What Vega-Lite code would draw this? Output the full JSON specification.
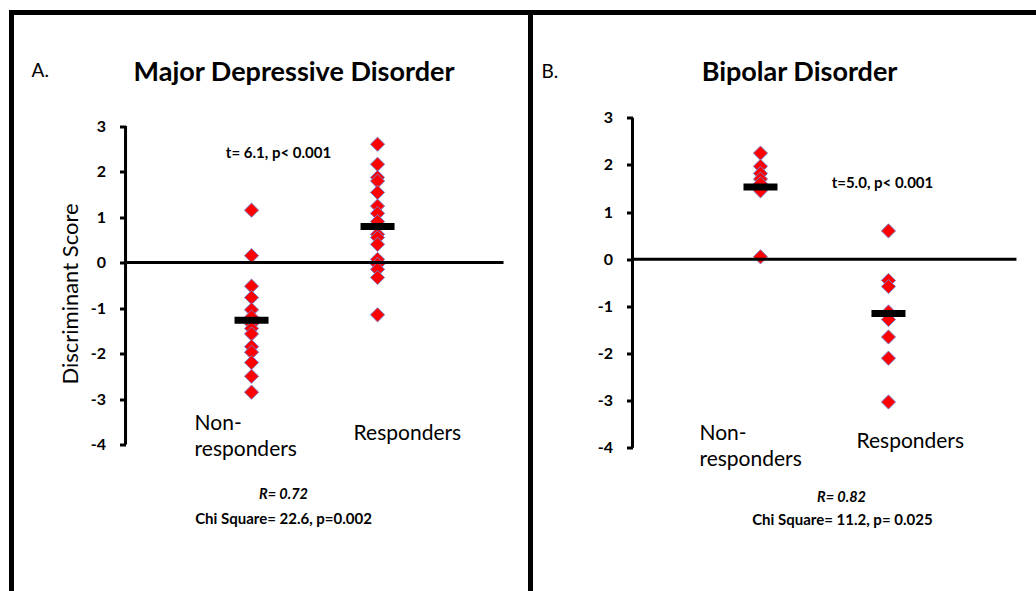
{
  "$schema": "https://vega.github.io/schema/vega-lite/v6.json",
  "padding": {"left": 7.5, "top": 8.5, "right": 0, "bottom": 0},
  "spacing": 0,
  "bounds": "flush",
  "background": "white",
  "config": {
    "font": "Lato",
    "text": {"color": "black", "font": "Lato"},
    "axisY": {"domain": false, "grid": false, "ticks": true, "tickSize": 6, "tickWidth": 3, "tickColor": "black", "labelFont": "Lato", "labelFontWeight": "bold", "labelFontSize": 16, "labelColor": "black", "labelPadding": 14, "titleFont": "Lato", "titleFontSize": 22, "titleFontWeight": "normal", "titleColor": "black", "titlePadding": 8}
  },
  "datasets": {
    "points": [
      {"disorder": "MDD", "group": "Non-responders", "code": 1, "score": 1.15},
      {"disorder": "MDD", "group": "Non-responders", "code": 1, "score": 0.15},
      {"disorder": "MDD", "group": "Non-responders", "code": 1, "score": -0.52},
      {"disorder": "MDD", "group": "Non-responders", "code": 1, "score": -0.77},
      {"disorder": "MDD", "group": "Non-responders", "code": 1, "score": -1.04},
      {"disorder": "MDD", "group": "Non-responders", "code": 1, "score": -1.2},
      {"disorder": "MDD", "group": "Non-responders", "code": 1, "score": -1.35},
      {"disorder": "MDD", "group": "Non-responders", "code": 1, "score": -1.45},
      {"disorder": "MDD", "group": "Non-responders", "code": 1, "score": -1.57},
      {"disorder": "MDD", "group": "Non-responders", "code": 1, "score": -1.85},
      {"disorder": "MDD", "group": "Non-responders", "code": 1, "score": -1.97},
      {"disorder": "MDD", "group": "Non-responders", "code": 1, "score": -2.2},
      {"disorder": "MDD", "group": "Non-responders", "code": 1, "score": -2.5},
      {"disorder": "MDD", "group": "Non-responders", "code": 1, "score": -2.85},
      {"disorder": "MDD", "group": "Responders", "code": 2, "score": 2.6},
      {"disorder": "MDD", "group": "Responders", "code": 2, "score": 2.16},
      {"disorder": "MDD", "group": "Responders", "code": 2, "score": 1.87},
      {"disorder": "MDD", "group": "Responders", "code": 2, "score": 1.79},
      {"disorder": "MDD", "group": "Responders", "code": 2, "score": 1.54},
      {"disorder": "MDD", "group": "Responders", "code": 2, "score": 1.24},
      {"disorder": "MDD", "group": "Responders", "code": 2, "score": 1.08},
      {"disorder": "MDD", "group": "Responders", "code": 2, "score": 0.9},
      {"disorder": "MDD", "group": "Responders", "code": 2, "score": 0.62},
      {"disorder": "MDD", "group": "Responders", "code": 2, "score": 0.55},
      {"disorder": "MDD", "group": "Responders", "code": 2, "score": 0.4},
      {"disorder": "MDD", "group": "Responders", "code": 2, "score": 0.07},
      {"disorder": "MDD", "group": "Responders", "code": 2, "score": -0.04},
      {"disorder": "MDD", "group": "Responders", "code": 2, "score": -0.15},
      {"disorder": "MDD", "group": "Responders", "code": 2, "score": -0.33},
      {"disorder": "MDD", "group": "Responders", "code": 2, "score": -1.15},
      {"disorder": "BD", "group": "Non-responders", "code": 1, "score": 2.25},
      {"disorder": "BD", "group": "Non-responders", "code": 1, "score": 1.97},
      {"disorder": "BD", "group": "Non-responders", "code": 1, "score": 1.82},
      {"disorder": "BD", "group": "Non-responders", "code": 1, "score": 1.7},
      {"disorder": "BD", "group": "Non-responders", "code": 1, "score": 1.6},
      {"disorder": "BD", "group": "Non-responders", "code": 1, "score": 1.45},
      {"disorder": "BD", "group": "Non-responders", "code": 1, "score": 0.05},
      {"disorder": "BD", "group": "Responders", "code": 2, "score": 0.6},
      {"disorder": "BD", "group": "Responders", "code": 2, "score": -0.45},
      {"disorder": "BD", "group": "Responders", "code": 2, "score": -0.58},
      {"disorder": "BD", "group": "Responders", "code": 2, "score": -1.12},
      {"disorder": "BD", "group": "Responders", "code": 2, "score": -1.28},
      {"disorder": "BD", "group": "Responders", "code": 2, "score": -1.65},
      {"disorder": "BD", "group": "Responders", "code": 2, "score": -2.1},
      {"disorder": "BD", "group": "Responders", "code": 2, "score": -3.03}
    ],
    "means": [
      {"disorder": "MDD", "group": "Non-responders", "code": 1, "mean": -1.27},
      {"disorder": "MDD", "group": "Responders", "code": 2, "mean": 0.79},
      {"disorder": "BD", "group": "Non-responders", "code": 1, "mean": 1.53},
      {"disorder": "BD", "group": "Responders", "code": 2, "mean": -1.15}
    ]
  },
  "hconcat": [
    {
      "width": 519,
      "height": 576,
      "view": {"stroke": "black", "strokeWidth": 5, "strokeDash": [1095, 519, 600], "strokeCap": "square"},
      "layer": [
        {
          "data": {"name": "points"},
          "transform": [{"filter": "datum.disorder === 'MDD'"}],
          "mark": {"type": "point", "shape": "diamond", "filled": true, "fill": "#ff0000", "stroke": "#7b7bc6", "strokeWidth": 1, "size": 200, "opacity": 1, "zindex": 2},
          "encoding": {
            "x": {"field": "code", "type": "quantitative", "scale": {"domain": [-0.905, 3.214], "nice": false, "zero": false}, "axis": null},
            "y": {"field": "score", "type": "quantitative", "scale": {"domain": [-7.165, 5.495], "nice": false, "zero": false},
              "axis": {"values": [-4, -3, -2, -1, 0, 1, 2, 3], "offset": -114, "labelExpr": "'' + datum.value", "labelFontWeight": "bold", "labelFontSize": 16, "title": "Discriminant Score", "titleY": 281}}
          }
        },
        {
          "data": {"values": [{}]},
          "mark": {"type": "rule", "color": "black", "strokeWidth": 3},
          "encoding": {"x": {"datum": 0, "axis": null}, "x2": {"datum": 3}, "y": {"datum": 0}}
        },
        {
          "data": {"values": [{}]},
          "mark": {"type": "rule", "color": "black", "strokeWidth": 3},
          "encoding": {"x": {"datum": 0, "axis": null}, "y": {"datum": -4}, "y2": {"datum": 3}}
        },
        {
          "data": {"name": "means"},
          "transform": [{"filter": "datum.disorder === 'MDD'"}],
          "mark": {"type": "tick", "orient": "horizontal", "size": 34, "thickness": 7, "color": "black", "opacity": 1, "zindex": 3},
          "encoding": {"x": {"field": "code", "type": "quantitative", "axis": null}, "y": {"field": "mean", "type": "quantitative"}}
        },
        {
          "data": {"values": [{}]},
          "mark": {"type": "text", "text": "A.", "align": "left", "baseline": "middle", "fontSize": 19},
          "encoding": {"x": {"datum": -0.746, "axis": null}, "y": {"datum": 4.22}}
        },
        {
          "data": {"values": [{}]},
          "mark": {"type": "text", "text": "Major Depressive Disorder", "align": "center", "baseline": "middle", "fontSize": 27, "fontWeight": "bold"},
          "encoding": {"x": {"datum": 1.337, "axis": null}, "y": {"datum": 4.176}}
        },
        {
          "data": {"values": [{}]},
          "mark": {"type": "text", "text": "t= 6.1, p< 0.001", "align": "center", "baseline": "middle", "fontSize": 15, "fontWeight": "bold"},
          "encoding": {"x": {"datum": 1.214, "axis": null}, "y": {"datum": 2.396}}
        },
        {
          "data": {"values": [{}]},
          "mark": {"type": "text", "text": "Non-", "align": "left", "baseline": "middle", "fontSize": 21},
          "encoding": {"x": {"datum": 0.548, "axis": null}, "y": {"datum": -3.54}}
        },
        {
          "data": {"values": [{}]},
          "mark": {"type": "text", "text": "responders", "align": "left", "baseline": "middle", "fontSize": 21},
          "encoding": {"x": {"datum": 0.548, "axis": null}, "y": {"datum": -4.13}}
        },
        {
          "data": {"values": [{}]},
          "mark": {"type": "text", "text": "Responders", "align": "left", "baseline": "middle", "fontSize": 21},
          "encoding": {"x": {"datum": 1.81, "axis": null}, "y": {"datum": -3.76}}
        },
        {
          "data": {"values": [{}]},
          "mark": {"type": "text", "text": "R= 0.72", "align": "center", "baseline": "middle", "fontSize": 14.5, "fontWeight": "bold", "fontStyle": "italic"},
          "encoding": {"x": {"datum": 1.254, "axis": null}, "y": {"datum": -5.12}}
        },
        {
          "data": {"values": [{}]},
          "mark": {"type": "text", "text": "Chi Square= 22.6, p=0.002", "align": "center", "baseline": "middle", "fontSize": 15, "fontWeight": "bold"},
          "encoding": {"x": {"datum": 1.254, "axis": null}, "y": {"datum": -5.63}}
        }
      ]
    },
    {
      "width": 504,
      "height": 576,
      "view": {"stroke": "black", "strokeWidth": 5, "strokeDash": [504, 2400], "strokeCap": "square"},
      "layer": [
        {
          "data": {"name": "points"},
          "transform": [{"filter": "datum.disorder === 'BD'"}],
          "mark": {"type": "point", "shape": "diamond", "filled": true, "fill": "#ff0000", "stroke": "#7b7bc6", "strokeWidth": 1, "size": 200, "opacity": 1, "zindex": 2},
          "encoding": {
            "x": {"field": "code", "type": "quantitative", "scale": {"domain": [-0.797, 3.141], "nice": false, "zero": false}, "axis": null},
            "y": {"field": "score", "type": "quantitative", "scale": {"domain": [-6.986, 5.233], "nice": false, "zero": false},
              "axis": {"values": [-4, -3, -2, -1, 0, 1, 2, 3], "offset": -102, "labelExpr": "'' + datum.value", "labelFontWeight": "bold", "labelFontSize": 16, "title": null}}
          }
        },
        {
          "data": {"values": [{}]},
          "mark": {"type": "rule", "color": "black", "strokeWidth": 3},
          "encoding": {"x": {"datum": 0, "axis": null}, "x2": {"datum": 3}, "y": {"datum": 0}}
        },
        {
          "data": {"values": [{}]},
          "mark": {"type": "rule", "color": "black", "strokeWidth": 3},
          "encoding": {"x": {"datum": 0, "axis": null}, "y": {"datum": -4}, "y2": {"datum": 3}}
        },
        {
          "data": {"name": "means"},
          "transform": [{"filter": "datum.disorder === 'BD'"}],
          "mark": {"type": "tick", "orient": "horizontal", "size": 34, "thickness": 7, "color": "black", "opacity": 1, "zindex": 3},
          "encoding": {"x": {"field": "code", "type": "quantitative", "axis": null}, "y": {"field": "mean", "type": "quantitative"}}
        },
        {
          "data": {"values": [{}]},
          "mark": {"type": "text", "text": "B.", "align": "left", "baseline": "middle", "fontSize": 19},
          "encoding": {"x": {"datum": -0.711, "axis": null}, "y": {"datum": 3.98}}
        },
        {
          "data": {"values": [{}]},
          "mark": {"type": "text", "text": "Bipolar Disorder", "align": "center", "baseline": "middle", "fontSize": 27, "fontWeight": "bold"},
          "encoding": {"x": {"datum": 1.305, "axis": null}, "y": {"datum": 3.96}}
        },
        {
          "data": {"values": [{}]},
          "mark": {"type": "text", "text": "t=5.0, p< 0.001", "align": "center", "baseline": "middle", "fontSize": 15, "fontWeight": "bold"},
          "encoding": {"x": {"datum": 1.953, "axis": null}, "y": {"datum": 1.606}}
        },
        {
          "data": {"values": [{}]},
          "mark": {"type": "text", "text": "Non-", "align": "left", "baseline": "middle", "fontSize": 21},
          "encoding": {"x": {"datum": 0.523, "axis": null}, "y": {"datum": -3.7}}
        },
        {
          "data": {"values": [{}]},
          "mark": {"type": "text", "text": "responders", "align": "left", "baseline": "middle", "fontSize": 21},
          "encoding": {"x": {"datum": 0.523, "axis": null}, "y": {"datum": -4.25}}
        },
        {
          "data": {"values": [{}]},
          "mark": {"type": "text", "text": "Responders", "align": "left", "baseline": "middle", "fontSize": 21},
          "encoding": {"x": {"datum": 1.75, "axis": null}, "y": {"datum": -3.87}}
        },
        {
          "data": {"values": [{}]},
          "mark": {"type": "text", "text": "R= 0.82", "align": "center", "baseline": "middle", "fontSize": 14.5, "fontWeight": "bold", "fontStyle": "italic"},
          "encoding": {"x": {"datum": 1.633, "axis": null}, "y": {"datum": -5.06}}
        },
        {
          "data": {"values": [{}]},
          "mark": {"type": "text", "text": "Chi Square= 11.2, p= 0.025", "align": "center", "baseline": "middle", "fontSize": 15, "fontWeight": "bold"},
          "encoding": {"x": {"datum": 1.64, "axis": null}, "y": {"datum": -5.54}}
        }
      ]
    }
  ]
}
